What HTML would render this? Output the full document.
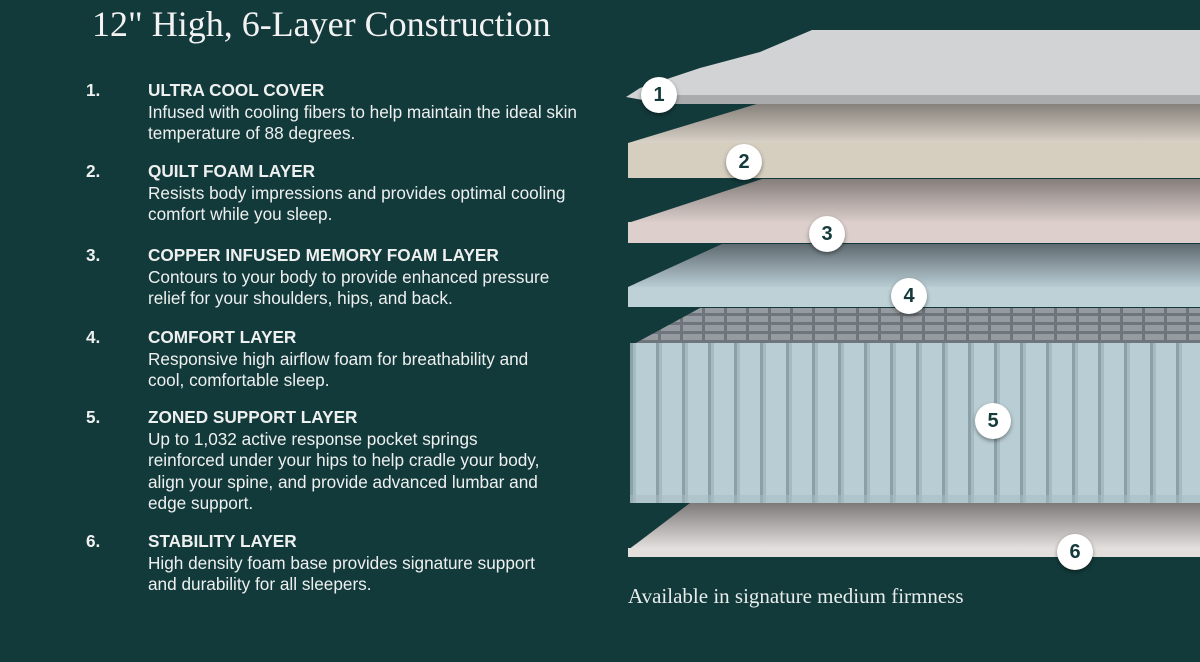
<!DOCTYPE html>
<html><head><meta charset="utf-8"><style>
html,body{margin:0;padding:0}
body{width:1200px;height:662px;background:#133a3b;position:relative;overflow:hidden;font-family:"Liberation Sans",sans-serif;color:#fff}
.t{position:absolute;left:92px;top:3px;font-family:"Liberation Serif",serif;font-size:36px;color:#f2f2f2;white-space:nowrap}
.b{position:absolute;left:86px;font-size:17.2px;line-height:21.5px;color:#eef0ef}
.b .n{position:absolute;left:0;top:0;font-weight:bold}
.b .c{position:absolute;left:62px;top:0;width:460px;white-space:nowrap}
.b .h{font-weight:bold}
.foot{position:absolute;left:628px;top:584px;font-family:"Liberation Serif",serif;font-size:21px;color:#e8ecea;white-space:nowrap}
.circ{position:absolute;width:36px;height:36px;border-radius:50%;background:#fff;color:#143a3b;font-size:20px;font-weight:bold;text-align:center;line-height:36px;box-shadow:0 2px 4px rgba(0,0,0,.4)}
</style></head><body>
<div class="t">12" High, 6-Layer Construction</div>

<div class="b" style="top:80px"><div class="n">1.</div><div class="c"><div class="h">ULTRA COOL COVER</div>Infused with cooling fibers to help maintain the ideal skin<br>temperature of 88 degrees.</div></div>
<div class="b" style="top:161px"><div class="n">2.</div><div class="c"><div class="h">QUILT FOAM LAYER</div>Resists body impressions and provides optimal cooling<br>comfort while you sleep.</div></div>
<div class="b" style="top:245px"><div class="n">3.</div><div class="c"><div class="h">COPPER INFUSED MEMORY FOAM LAYER</div>Contours to your body to provide enhanced pressure<br>relief for your shoulders, hips, and back.</div></div>
<div class="b" style="top:327px"><div class="n">4.</div><div class="c"><div class="h">COMFORT LAYER</div>Responsive high airflow foam for breathability and<br>cool, comfortable sleep.</div></div>
<div class="b" style="top:407px"><div class="n">5.</div><div class="c"><div class="h">ZONED SUPPORT LAYER</div>Up to 1,032 active response pocket springs<br>reinforced under your hips to help cradle your body,<br>align your spine, and provide advanced lumbar and<br>edge support.</div></div>
<div class="b" style="top:531px"><div class="n">6.</div><div class="c"><div class="h">STABILITY LAYER</div>High density foam base provides signature support<br>and durability for all sleepers.</div></div>

<svg style="position:absolute;left:0;top:0" width="1200" height="662">
<defs>
<linearGradient id="g6" x1="0" y1="0" x2="0" y2="1"><stop offset="0" stop-color="#7d7a79"/><stop offset="1" stop-color="#e6e3e1"/></linearGradient>
<linearGradient id="g2" x1="0" y1="0" x2="0" y2="1"><stop offset="0" stop-color="#857f79"/><stop offset="1" stop-color="#d8d2c8"/></linearGradient>
<linearGradient id="g3" x1="0" y1="0" x2="0" y2="1"><stop offset="0" stop-color="#857e7b"/><stop offset="1" stop-color="#dccfcc"/></linearGradient>
<linearGradient id="g4" x1="0" y1="0" x2="0" y2="1"><stop offset="0" stop-color="#5f6a70"/><stop offset="1" stop-color="#b8ccd3"/></linearGradient>
<pattern id="spr" x="630" y="0" width="26" height="10" patternUnits="userSpaceOnUse">
<rect width="26" height="10" fill="#b9ced4"/><rect x="0" width="3" height="10" fill="#8aa1a8"/><rect x="3" width="3" height="10" fill="#a5bbc1"/>
</pattern>
<pattern id="grid" width="22" height="9" patternUnits="userSpaceOnUse"><rect width="22" height="9" fill="#6f767b"/><rect x="1" y="1" width="19" height="6" fill="#959ba0"/></pattern>
</defs>
<polygon points="628,550 690,503 1200,503 1200,550" fill="url(#g6)"/>
<rect x="628" y="548" width="572" height="9" fill="#e2dfdc"/>
<polygon points="632,345 700,308 1200,308 1200,345" fill="url(#grid)"/>
<rect x="630" y="343" width="570" height="160" fill="url(#spr)"/>
<rect x="630" y="495" width="570" height="8" fill="#a6bbc1" opacity=".5"/>
<polygon points="628,287 722,244 1200,244 1200,287" fill="url(#g4)"/>
<rect x="628" y="287" width="572" height="20" fill="#bdd1d7"/>
<polygon points="628,223 762,179 1200,179 1200,223" fill="url(#g3)"/>
<rect x="628" y="222" width="572" height="21" fill="#dccfcc"/>
<polygon points="628,143 760,103 1200,103 1200,143" fill="url(#g2)"/>
<rect x="628" y="143" width="572" height="35" fill="#d6cfbf"/>
<polygon points="626,97 640,88 700,68 760,52 812,30 1200,30 1200,103 660,103" fill="#d2d3d4"/>
<polygon points="640,95 1200,95 1200,104 660,104" fill="#a9abad"/>
</svg>
<div class="circ" style="left:641px;top:77px">1</div>
<div class="circ" style="left:726px;top:144px">2</div>
<div class="circ" style="left:809px;top:216px">3</div>
<div class="circ" style="left:891px;top:278px">4</div>
<div class="circ" style="left:975px;top:403px">5</div>
<div class="circ" style="left:1057px;top:534px">6</div>
<div class="foot">Available in signature medium firmness</div>
</body></html>
